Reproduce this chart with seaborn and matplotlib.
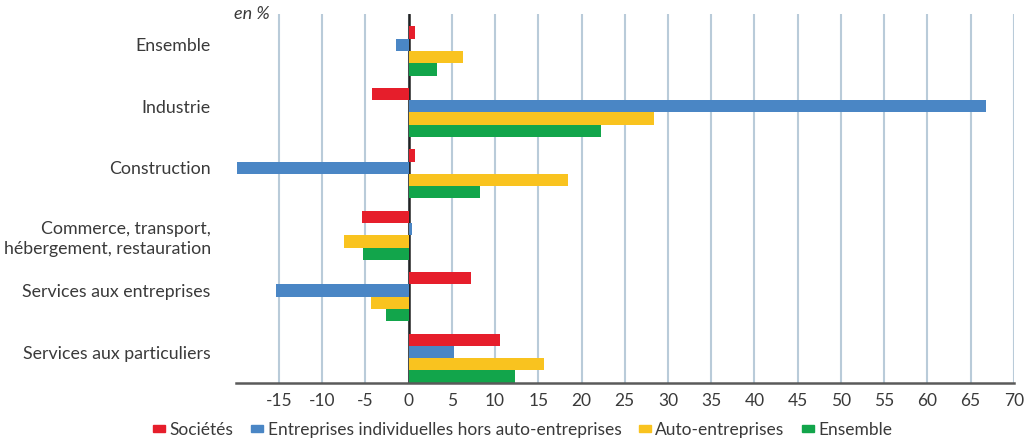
import matplotlib
matplotlib.use("Agg")
import matplotlib.pyplot as plt
from matplotlib.patches import Rectangle
from matplotlib.transforms import ScaledTranslation
import pandas as pd
import seaborn as sns

# Évolution par secteur et par catégorie juridique (en %)
secteurs = [
    "Ensemble",
    "Industrie",
    "Construction",
    "Commerce, transport,\nhébergement, restauration",
    "Services aux entreprises",
    "Services aux particuliers",
]
series = [
    "Sociétés",
    "Entreprises individuelles hors auto-entreprises",
    "Auto-entreprises",
    "Ensemble",
]
societes = [0.7, -4.2, 0.7, -5.4, 7.2, 10.6]
ei_hors_ae = [-1.5, 66.8, -19.8, 0.4, -15.4, 5.2]
auto_entreprises = [6.3, 28.4, 18.4, -7.5, -4.4, 15.7]
ensemble = [3.3, 22.2, 8.3, -5.3, -2.6, 12.3]
couleurs = ["#e61e2b", "#4a86c5", "#f9c31f", "#12a54b"]
xticks = list(range(-15, 71, 5))

valeurs = [societes, ei_hors_ae, auto_entreprises, ensemble]
df = pd.DataFrame(
    [(s, sect, v) for s, vals in zip(series, valeurs) for sect, v in zip(secteurs, vals)],
    columns=["serie", "secteur", "valeur"],
)

sns.set_theme(style="white")
plt.rcParams["font.family"] = ["Lato", "DejaVu Sans"]

fig = plt.figure(figsize=(10.25, 4.41), dpi=100)
ax = fig.add_axes([0.230, 0.132, 0.759, 0.836])

sns.barplot(
    data=df, y="secteur", x="valeur", hue="serie", order=secteurs,
    hue_order=series, palette=couleurs, orient="h", ax=ax,
    width=0.8, linewidth=0, saturation=1, legend=False, errorbar=None,
)
for p in ax.patches:
    p.set_zorder(2)

ax.set_xlim(-20, 70)
ax.set_ylim(5.4, -0.6)
ax.set_xticks(xticks)
ax.set_xticklabels([str(t) for t in xticks], fontsize=12.5, color="#3a3a3a")
ax.set_xlabel("")
ax.set_ylabel("")
ax.tick_params(axis="y", length=0, pad=18, labelsize=12.8, labelcolor="#3a3a3a")
ax.tick_params(axis="x", length=4, width=1.2, color="#b9cbd9", pad=3)
decalage = ScaledTranslation(0, 0.06, fig.dpi_scale_trans)
for lab in ax.get_yticklabels():
    lab.set_horizontalalignment("right")
    lab.set_multialignment("right")
    lab.set_linespacing(1.35)
    if "\n" not in lab.get_text():
        lab.set_transform(lab.get_transform() + decalage)

ax.grid(axis="x", color="#b9cbd9", linewidth=1.5)
ax.set_axisbelow(True)
for side in ["top", "right", "left"]:
    ax.spines[side].set_visible(False)
ax.spines["bottom"].set_color("#5a5a5a")
ax.spines["bottom"].set_linewidth(1.8)
ax.axvline(0, color="#222222", linewidth=1.8, zorder=1.5)

fig.text(0.263, 0.968, "en %", ha="right", va="center", fontsize=13,
         style="italic", color="#3a3a3a")

handles = [Rectangle((0, 0), 1, 1, color=c) for c in couleurs]
fig.legend(
    handles, series, loc="center", bbox_to_anchor=(0.51, 0.025), ncol=4,
    frameon=False, fontsize=12.5, handlelength=0.7, handleheight=0.25,
    handletextpad=0.25, columnspacing=1.0, labelcolor="#3a3a3a",
)

fig.savefig("out.png", dpi=100)
